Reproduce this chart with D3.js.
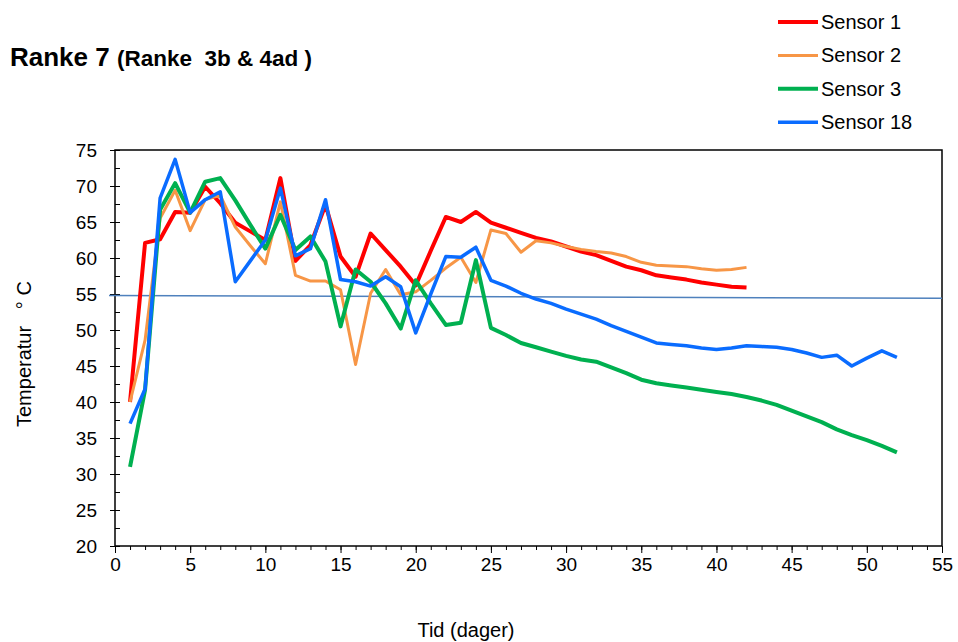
<!DOCTYPE html>
<meta charset="utf-8">
<style>

body {
  margin: 0;
  background: #fff;
}

text {
  font-family: "Liberation Sans", Arial, sans-serif;
  fill: #000;
}

</style>
<body>
<script src="https://cdn.jsdelivr.net/npm/d3@7/dist/d3.min.js"></script>
<script>

var width = 958,
    height = 642;

// days 1..n for each sensor
var sensor1 = [40.0, 62.1, 62.6, 66.4, 66.3, 69.9, 67.6, 64.9, 63.7, 62.5,
               71.1, 59.6, 61.8, 67.4, 60.2, 57.4, 63.4, 61.1, 58.8, 56.2,
               61.0, 65.7, 65.0, 66.4, 64.9, 64.2, 63.5, 62.8, 62.3, 61.6,
               60.9, 60.4, 59.6, 58.8, 58.3, 57.6, 57.3, 57.0, 56.6, 56.3,
               56.0, 55.9];

var sensor2 = [40.0, 48.6, 65.5, 69.4, 63.8, 68.1, 68.7, 64.3, 61.7, 59.2,
               67.8, 57.6, 56.8, 56.8, 55.6, 45.2, 55.1, 58.4, 54.9, 55.3,
               56.9, 58.6, 60.1, 56.6, 63.9, 63.4, 60.8, 62.4, 62.1, 61.6,
               61.2, 60.9, 60.7, 60.2, 59.4, 59.0, 58.9, 58.8, 58.5, 58.3,
               58.4, 58.7];

var sensor3 = [31.0, 41.7, 66.7, 70.4, 66.3, 70.6, 71.1, 68.0, 64.6, 61.3,
               66.0, 61.1, 63.0, 59.5, 50.5, 58.4, 56.7, 53.7, 50.2, 56.9,
               53.7, 50.7, 51.0, 59.7, 50.3, 49.3, 48.2, 47.6, 47.0, 46.4,
               45.9, 45.6, 44.8, 44.0, 43.1, 42.6, 42.3, 42.0, 41.7, 41.4,
               41.1, 40.7, 40.2, 39.6, 38.8, 38.0, 37.2, 36.2, 35.4, 34.7,
               33.9, 33.0];

var sensor18 = [37.0, 41.8, 68.3, 73.7, 66.3, 68.1, 69.2, 56.7, 59.6, 62.5,
                69.7, 60.3, 61.3, 68.1, 57.0, 56.7, 56.1, 57.4, 56.0, 49.6,
                55.0, 60.2, 60.1, 61.5, 56.9, 56.1, 55.1, 54.3, 53.7, 52.9,
                52.2, 51.5, 50.6, 49.8, 49.0, 48.2, 48.0, 47.8, 47.5, 47.3,
                47.5, 47.8, 47.7, 47.6, 47.3, 46.8, 46.2, 46.5, 45.0, 46.1,
                47.1, 46.2];

var seriesNames = ["Sensor 1", "Sensor 2", "Sensor 3", "Sensor 18"],
    seriesColors = ["#ff0000", "#f79646", "#00b050", "#0a6cff"],
    seriesWidths = [4, 3, 4, 3.5];

var refLine = [[-0.4, 54.8], [55, 54.4]];

var xTicks = d3.range(0, 56, 5),
    yTicks = d3.range(20, 76, 5);

var margin = {top: 150, right: 16, bottom: 96, left: 115};

var x = d3.scaleLinear()
    .domain([0, 55])
    .range([margin.left, width - margin.right]);

var y = d3.scaleLinear()
    .domain([20, 75])
    .range([height - margin.bottom, margin.top]);

var svg = d3.select("body").append("svg")
    .attr("width", width)
    .attr("height", height);

var series = [sensor1, sensor2, sensor3, sensor18].map(function(values, i) {
  return {
    name: seriesNames[i],
    color: seriesColors[i],
    width: seriesWidths[i],
    points: values.map(function(v, j) { return [j + 1, v]; })
  };
});

// minor ticks
svg.append("g")
    .attr("transform", "translate(0," + y(20) + ")")
    .call(d3.axisBottom(x).tickValues(d3.range(0, 56, 1)).tickSize(4).tickFormat(""))
    .call(function(g) { g.select(".domain").remove(); });

svg.append("g")
    .attr("transform", "translate(" + x(0) + ",0)")
    .call(d3.axisRight(y).tickValues(d3.range(22.5, 75, 5)).tickSize(5).tickFormat(""))
    .call(function(g) { g.select(".domain").remove(); });

// major ticks + labels
var xAxis = svg.append("g")
    .attr("transform", "translate(0," + y(20) + ")")
    .call(d3.axisBottom(x).tickValues(xTicks).tickSize(7).tickPadding(5));

xAxis.select(".domain").remove();
xAxis.selectAll("text")
    .style("font-size", "19px")
    .style("font-family", "'Liberation Sans', Arial, sans-serif");

var yAxis = svg.append("g")
    .attr("transform", "translate(" + x(0) + ",0)")
    .call(d3.axisLeft(y).tickValues(yTicks).tickSize(5).tickPadding(13));

yAxis.select(".domain").remove();
yAxis.selectAll("line").attr("x2", -5).attr("x1", 5);
yAxis.selectAll("text")
    .style("font-size", "19px")
    .style("font-family", "'Liberation Sans', Arial, sans-serif");

svg.selectAll(".tick line").attr("stroke", "#000");

// plot frame
svg.append("rect")
    .attr("x", x(0))
    .attr("y", y(75))
    .attr("width", x(55) - x(0))
    .attr("height", y(20) - y(75))
    .attr("fill", "none")
    .attr("stroke", "#000")
    .attr("stroke-width", 1.5);

// reference line
svg.append("path")
    .datum(refLine)
    .attr("fill", "none")
    .attr("stroke", "#4f81bd")
    .attr("stroke-width", 1.5)
    .attr("d", d3.line().x(function(d) { return x(d[0]); }).y(function(d) { return y(d[1]); }));

var line = d3.line()
    .x(function(d) { return x(d[0]); })
    .y(function(d) { return y(d[1]); });

svg.selectAll(".series")
    .data(series)
  .enter().append("path")
    .attr("class", "series")
    .attr("fill", "none")
    .attr("stroke", function(d) { return d.color; })
    .attr("stroke-width", function(d) { return d.width; })
    .attr("stroke-linejoin", "round")
    .attr("d", function(d) { return line(d.points); });

// legend
var legend = svg.selectAll(".legend")
    .data(series)
  .enter().append("g")
    .attr("class", "legend")
    .attr("transform", function(d, i) { return "translate(778," + (22 + i * 33.4) + ")"; });

legend.append("line")
    .attr("x1", 0)
    .attr("x2", 40)
    .attr("stroke", function(d) { return d.color; })
    .attr("stroke-width", function(d) { return d.width; });

legend.append("text")
    .attr("x", 43)
    .attr("y", 7)
    .style("font-size", "20px")
    .text(function(d) { return d.name; });

// title
var title = svg.append("text")
    .attr("x", 10)
    .attr("y", 66)
    .style("font-weight", "bold");

title.append("tspan")
    .style("font-size", "26px")
    .text("Ranke 7 ");

title.append("tspan")
    .style("font-size", "22.5px")
    .style("white-space", "pre")
    .text("(Ranke  3b & 4ad )");

// axis titles
svg.append("text")
    .attr("x", 466)
    .attr("y", 637)
    .attr("text-anchor", "middle")
    .style("font-size", "20px")
    .text("Tid (dager)");

svg.append("text")
    .attr("transform", "translate(31,427) rotate(-90)")
    .style("font-size", "20px")
    .style("white-space", "pre")
    .text("Temperatur   \u00b0 C");

</script>
